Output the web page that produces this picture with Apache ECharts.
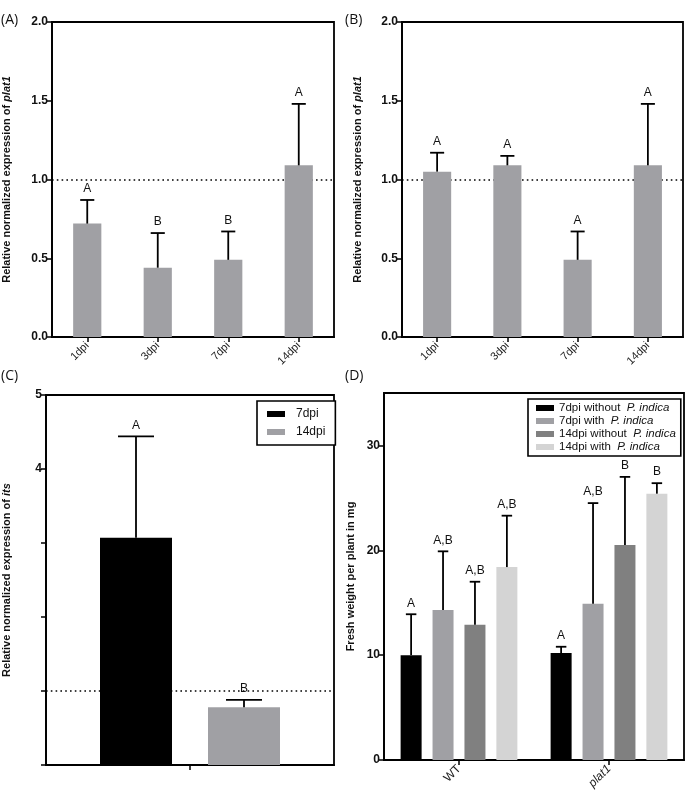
<!DOCTYPE html>
<html><head><meta charset="utf-8">
<script src="https://cdn.jsdelivr.net/npm/echarts@6/dist/echarts.min.js"></script>
<style>html,body{margin:0;padding:0;background:#fff}#c{width:687px;height:796px}</style>
</head><body><div id="c"></div>
<script>
// ---- data ----
const catsAB = ['1dpi', '3dpi', '7dpi', '14dpi'];
const aMeans = [0.72, 0.44, 0.49, 1.09];
const aTops = [0.87, 0.66, 0.67, 1.48];
const aLetters = ['A', 'B', 'B', 'A'];
const bMeans = [1.05, 1.09, 0.49, 1.09];
const bTops = [1.17, 1.15, 0.67, 1.48];
const bLetters = ['A', 'A', 'A', 'A'];
const cCats = [''];
const cSeries = ['7dpi', '14dpi'];
const cMeans = [3.07, 0.78];
const cTops = [4.44, 0.88];
const cLetters = ['A', 'B'];
const dCats = ['WT', 'plat1'];
const dSeries = ['7dpi without P. indica', '7dpi with P. indica', '14dpi without P. indica', '14dpi with P. indica'];
const dMeans = [[10.0, 10.2], [14.3, 14.9], [12.9, 20.5], [18.4, 25.4]];
const dTops = [[13.9, 10.8], [19.9, 24.5], [17.0, 27.0], [23.3, 26.4]];
const dLetters = [['A', 'A'], ['A,B', 'A,B'], ['A,B', 'B'], ['A,B', 'B']];
const greyAB = '#a0a0a4';
const cColors = ['#000000', '#a0a0a4'];
const dColors = ['#000000', '#a0a0a4', '#808080', '#d4d4d4'];

const FONT = '"Liberation Sans", Arial, sans-serif';
const chart = echarts.init(document.getElementById('c'));

function errSeries(gridIdx, means, tops, letters, nSer, sIdx, bwFrac, gapFrac) {
  return {
    type: 'custom', xAxisIndex: gridIdx, yAxisIndex: gridIdx, z: 4, silent: true,
    data: means.map((m, i) => [i, m, tops[i]]),
    encode: { x: 0, y: 2 },
    renderItem: function (params, api) {
      const i = api.value(0);
      const catW = api.size([1, 0])[0];
      const bw = catW * bwFrac, gap = bw * gapFrac;
      const total = nSer * bw + (nSer - 1) * gap;
      const p0 = api.coord([i, api.value(1)]);
      const p1 = api.coord([i, api.value(2)]);
      const x = p0[0] - total / 2 + bw / 2 + sIdx * (bw + gap);
      const cap = bw / 4;
      const ls = { stroke: '#000', lineWidth: 1.8 };
      return { type: 'group', children: [
        { type: 'line', shape: { x1: x, y1: p0[1], x2: x, y2: p1[1] }, style: ls },
        { type: 'line', shape: { x1: x - cap, y1: p1[1], x2: x + cap, y2: p1[1] }, style: ls },
        { type: 'text', x: x, y: p1[1] - 5, style: { text: letters[params.dataIndex], textAlign: 'center', textVerticalAlign: 'bottom', fill: '#111', font: '12px ' + FONT } }
      ] };
    }
  };
}
function dotLine(gridIdx, yv) {
  return { type: 'line', xAxisIndex: gridIdx, yAxisIndex: gridIdx, data: [], z: 1, silent: true,
    markLine: { silent: true, symbol: 'none', z: 1, label: { show: false }, animation: false,
      lineStyle: { color: '#000', width: 1.6, type: [1.6, 3.2] }, data: [{ yAxis: yv }] } };
}
const axisLineStyle = { show: true, lineStyle: { color: '#000', width: 1.8 } };
function yAx(gridIdx, min, max, interval, name, nameGap, fmt, extra) {
  return Object.assign({
    type: 'value', gridIndex: gridIdx, min: min, max: max, interval: interval,
    name: name, nameLocation: 'middle', nameGap: nameGap,
    nameTextStyle: { fontFamily: FONT, fontSize: 11, fontWeight: 'bold', color: '#111',
      rich: { i: { fontFamily: FONT, fontSize: 11, fontWeight: 'bold', fontStyle: 'italic', color: '#111' } } },
    axisLine: axisLineStyle, axisTick: { show: true, length: 5, lineStyle: { color: '#000', width: 1.5 } },
    splitLine: { show: false },
    axisLabel: { fontFamily: FONT, fontSize: 12, fontWeight: 'bold', color: '#111', margin: 4, formatter: fmt }
  }, extra || {});
}
function xAx(gridIdx, cats, showLabel, fs, fmt) {
  return {
    type: 'category', gridIndex: gridIdx, data: cats,
    axisLine: axisLineStyle, axisTick: { show: true, alignWithLabel: true, length: 5, lineStyle: { color: '#000', width: 1.5 } },
    axisLabel: { show: showLabel, rotate: 45, fontFamily: FONT, fontSize: fs, color: '#222', margin: 7, formatter: fmt,
      rich: { i: { fontStyle: 'italic', fontFamily: FONT, fontSize: fs, color: '#222' } } }
  };
}
const gridBox = { show: true, borderColor: '#000', borderWidth: 1.8, backgroundColor: 'transparent', containLabel: false };

const series = [];
// A
series.push(dotLine(0, 1));
series.push({ type: 'bar', xAxisIndex: 0, yAxisIndex: 0, data: aMeans, barWidth: '40%', z: 2, itemStyle: { color: greyAB } });
series.push(errSeries(0, aMeans, aTops, aLetters, 1, 0, 0.4, 0));
// B
series.push(dotLine(1, 1));
series.push({ type: 'bar', xAxisIndex: 1, yAxisIndex: 1, data: bMeans, barWidth: '40%', z: 2, itemStyle: { color: greyAB } });
series.push(errSeries(1, bMeans, bTops, bLetters, 1, 0, 0.4, 0));
// C
series.push(dotLine(2, 1));
cSeries.forEach((nm, k) => {
  series.push({ name: nm, type: 'bar', xAxisIndex: 2, yAxisIndex: 2, data: [cMeans[k]], barWidth: '25%', barGap: '50%', z: 2, itemStyle: { color: cColors[k] } });
});
cSeries.forEach((nm, k) => {
  series.push(errSeries(2, [cMeans[k]], [cTops[k]], [cLetters[k]], 2, k, 0.25, 0.5));
});
// D
dSeries.forEach((nm, k) => {
  series.push({ name: nm, type: 'bar', xAxisIndex: 3, yAxisIndex: 3, data: dMeans[k], barWidth: '14%', barGap: '52%', z: 2, itemStyle: { color: dColors[k] } });
});
dSeries.forEach((nm, k) => {
  series.push(errSeries(3, dMeans[k], dTops[k], dLetters[k], 4, k, 0.14, 0.52));
});

const legendTextD = { fontFamily: FONT, fontSize: 11.5, color: '#111',
  rich: { n: { fontFamily: FONT, fontSize: 11.5, color: '#111' }, i: { fontFamily: FONT, fontSize: 11.5, fontStyle: 'italic', color: '#111' } } };
const legendTextC = { fontFamily: FONT, fontSize: 12, color: '#111', padding: [0, 0, 0, 6] };

chart.setOption({
  animation: false,
  backgroundColor: '#fff',
  textStyle: { fontFamily: FONT },
  grid: [
    Object.assign({ left: 52, top: 22, width: 282, height: 315 }, gridBox),
    Object.assign({ left: 402, top: 22, width: 281, height: 315 }, gridBox),
    Object.assign({ left: 45, top: 395, width: 289, height: 370 }, gridBox),
    Object.assign({ left: 384, top: 393, width: 300, height: 367 }, gridBox)
  ],
  xAxis: [
    xAx(0, catsAB, true, 11),
    xAx(1, catsAB, true, 11),
    xAx(2, cCats, false, 11),
    xAx(3, dCats, true, 12, v => (v === 'plat1' ? '{i|' + v + '}' : v)),
  ],
  yAxis: [
    yAx(0, 0, 2, 0.5, 'Relative normalized expression of {i|plat1}', 40, v => v.toFixed(1)),
    yAx(1, 0, 2, 0.5, 'Relative normalized expression of {i|plat1}', 39, v => v.toFixed(1)),
    yAx(2, 0, 5, 1, 'Relative normalized expression of {i|its}', 34, v => (v >= 4 ? String(v) : '')),
    yAx(3, 0, 35, 10, 'Fresh weight per plant in mg', 28, v => (v === 35 ? '' : String(v)),
      { axisTick: { show: true, length: 5, customValues: [0, 10, 20, 30], lineStyle: { color: '#000', width: 1.5 } } })
  ],
  legend: [
    { show: true, data: cSeries, left: 257, top: 401, orient: 'vertical', icon: 'rect', itemWidth: 18, itemHeight: 6,
      itemGap: 6, padding: [7, 10, 7, 10], borderColor: '#000', borderWidth: 1.6, backgroundColor: '#fff',
      textStyle: legendTextC },
    { show: true, data: dSeries, left: 528, top: 399, orient: 'vertical', icon: 'rect', itemWidth: 18, itemHeight: 6,
      itemGap: 1, padding: [3, 5, 3, 8], borderColor: '#000', borderWidth: 1.6, backgroundColor: '#fff',
      textStyle: legendTextD,
      formatter: function (name) { const p = name.split('P. indica'); return '{n|' + p[0] + '} {i|P. indica}'; } }
  ],
  graphic: [
    { type: 'text', left: 1, top: 13, style: { text: '(A)', font: '14px "Open Sans", sans-serif', fill: '#111' } },
    { type: 'text', left: 345, top: 13, style: { text: '(B)', font: '14px "Open Sans", sans-serif', fill: '#111' } },
    { type: 'text', left: 1, top: 369, style: { text: '(C)', font: '14px "Open Sans", sans-serif', fill: '#111' } },
    { type: 'text', left: 345, top: 369, style: { text: '(D)', font: '14px "Open Sans", sans-serif', fill: '#111' } }
  ],
  series: series
});
</script></body></html>
